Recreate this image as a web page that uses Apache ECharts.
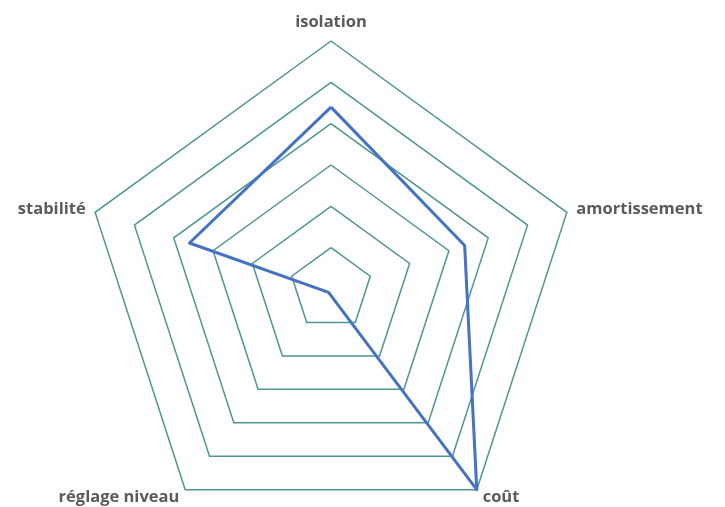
<!DOCTYPE html>
<html>
<head>
<meta charset="utf-8">
<script src="https://cdn.jsdelivr.net/npm/echarts@6/dist/echarts.min.js"></script>
<style>html,body{margin:0;padding:0;background:#fff;}#c{width:725px;height:507px;}</style>
</head>
<body>
<div id="c"></div>
<script>
// ECharts places radar indicators counter-clockwise from the top
const indicators = ['isolation', 'stabilité', 'réglage niveau', 'coût', 'amortissement'];
const maxValue = 6;
const values = [4.4, 3.6, 0.1, 6, 3.4];

const chart = echarts.init(document.getElementById('c'));
chart.setOption({
  animation: false,
  radar: {
    center: [331, 289],
    radius: 248,
    startAngle: 90,
    shape: 'polygon',
    splitNumber: 6,
    indicator: indicators.map(n => ({ name: n, max: maxValue, min: 0 })),
    nameGap: 10,
    axisName: {
      color: '#5a5a5a',
      fontFamily: 'Open Sans, sans-serif',
      fontWeight: 'bold',
      fontSize: 16.5
    },
    axisLine: { show: false },
    axisTick: { show: false },
    axisLabel: { show: false },
    splitArea: { show: false },
    splitLine: { lineStyle: { color: '#4e9494', width: 1.5 } }
  },
  series: [{
    type: 'radar',
    symbol: 'none',
    lineStyle: { color: '#4472c4', width: 3 },
    data: [{ value: values }]
  }]
});
</script>
</body>
</html>
